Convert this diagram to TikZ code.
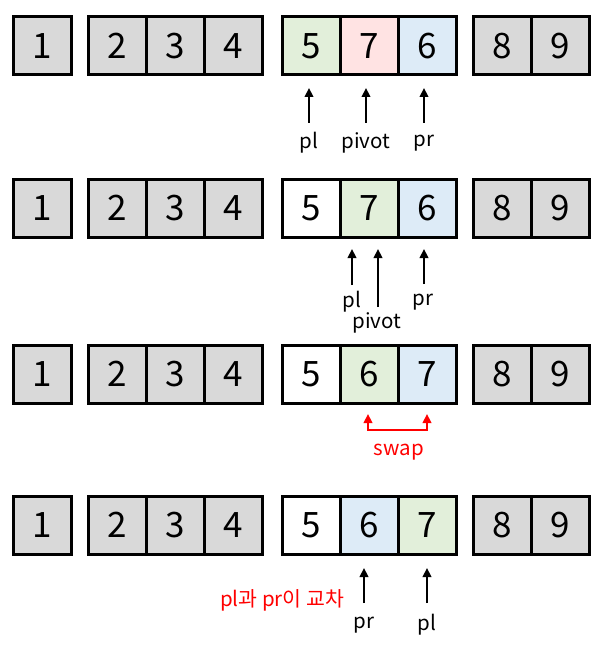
\documentclass[tikz,border=0pt]{standalone}
\usepackage{fontspec}
\setmainfont{Noto Sans CJK KR}
\usetikzlibrary{arrows.meta}
\definecolor{cgray}{HTML}{D9D9D9}
\definecolor{cgreen}{HTML}{E2EFDA}
\definecolor{cpink}{HTML}{FFE3E3}
\definecolor{cblue}{HTML}{DDEBF7}
\definecolor{cred}{HTML}{FF0000}
\tikzset{
  cell/.style={draw=black, line width=3pt, minimum width=58pt, minimum height=58pt, inner sep=0pt, font=\fontsize{35}{35}\selectfont, text=black},
  gcell/.style={cell, fill=cgray},
  ptr/.style={line width=2.6pt, -{Triangle[length=9pt,width=8.5pt]}},
  lab/.style={inner sep=0pt, font=\fontsize{20.5}{20.5}\selectfont},
  redlab/.style={lab, text=cred},
}
\begin{document}
\begin{tikzpicture}[x=1pt,y=-1pt]
\useasboundingbox[fill=white] (0,0) rectangle (607,647);
% rows
\foreach \r/\y in {1/46,2/208,3/374,4/525}{
  \node[gcell] (r\r c1) at (42,\y) {1};
  \node[gcell] (r\r c2) at (117,\y) {2};
  \node[gcell] (r\r c3) at (175,\y) {3};
  \node[gcell] (r\r c4) at (233,\y) {4};
  \node[gcell] (r\r c8) at (502,\y) {8};
  \node[gcell] (r\r c9) at (560,\y) {9};
}
% row 1
\node[cell, fill=cgreen] (r1c5) at (311,46) {5};
\node[cell, fill=cpink] (r1c6) at (369,46) {7};
\node[cell, fill=cblue] (r1c7) at (427,46) {6};
% row 2
\node[cell, fill=white] (r2c5) at (311,208) {5};
\node[cell, fill=cgreen] (r2c6) at (369,208) {7};
\node[cell, fill=cblue] (r2c7) at (427,208) {6};
% row 3
\node[cell, fill=white] (r3c5) at (311,374) {5};
\node[cell, fill=cgreen] (r3c6) at (369,374) {6};
\node[cell, fill=cblue] (r3c7) at (427,374) {7};
% row 4
\node[cell, fill=white] (r4c5) at (311,525) {5};
\node[cell, fill=cblue] (r4c6) at (369,525) {6};
\node[cell, fill=cgreen] (r4c7) at (427,525) {7};

% row 1 pointers
\coordinate (a1s) at (309,123); \coordinate (a1e) at (309,88);
\coordinate (a2s) at (366,123); \coordinate (a2e) at (366,88);
\coordinate (a3s) at (424,123); \coordinate (a3e) at (424,88);
\draw[ptr] (a1s) -- (a1e);
\draw[ptr] (a2s) -- (a2e);
\draw[ptr] (a3s) -- (a3e);
\node[lab] (l1pl) at (309,143) {pl};
\node[lab] (l1pv) at (366,143) {pivot};
\node[lab] (l1pr) at (424,143) {pr};

% row 2 pointers
\coordinate (b1s) at (352,285); \coordinate (b1e) at (352,249);
\coordinate (b2s) at (378,307); \coordinate (b2e) at (378,249);
\coordinate (b3s) at (424,284); \coordinate (b3e) at (424,249);
\draw[ptr] (b1s) -- (b1e);
\draw[ptr] (b2s) -- (b2e);
\draw[ptr] (b3s) -- (b3e);
\node[lab] (l2pl) at (352,302) {pl};
\node[lab] (l2pv) at (377,323) {pivot};
\node[lab] (l2pr) at (423,302) {pr};

% row 3 swap
\coordinate (s1) at (368,414); \coordinate (s2) at (368,430);
\coordinate (s3) at (427,430); \coordinate (s4) at (427,414);
\draw[line width=2.6pt, cred, {Triangle[length=9pt,width=8.5pt]}-{Triangle[length=9pt,width=8.5pt]}] (s1) -- (s2) -- (s3) -- (s4);
\node[redlab] (lswap) at (399,452) {swap};

% row 4 pointers
\coordinate (c1s) at (364,603); \coordinate (c1e) at (364,568);
\coordinate (c2s) at (427,603); \coordinate (c2e) at (427,568);
\draw[ptr] (c1s) -- (c1e);
\draw[ptr] (c2s) -- (c2e);
\node[lab] (l4pr) at (364,625) {pr};
\node[lab] (l4pl) at (427,625) {pl};
\node[redlab] (lcross) at (282,600) {pl과 pr이 교차};
\end{tikzpicture}
\end{document}
